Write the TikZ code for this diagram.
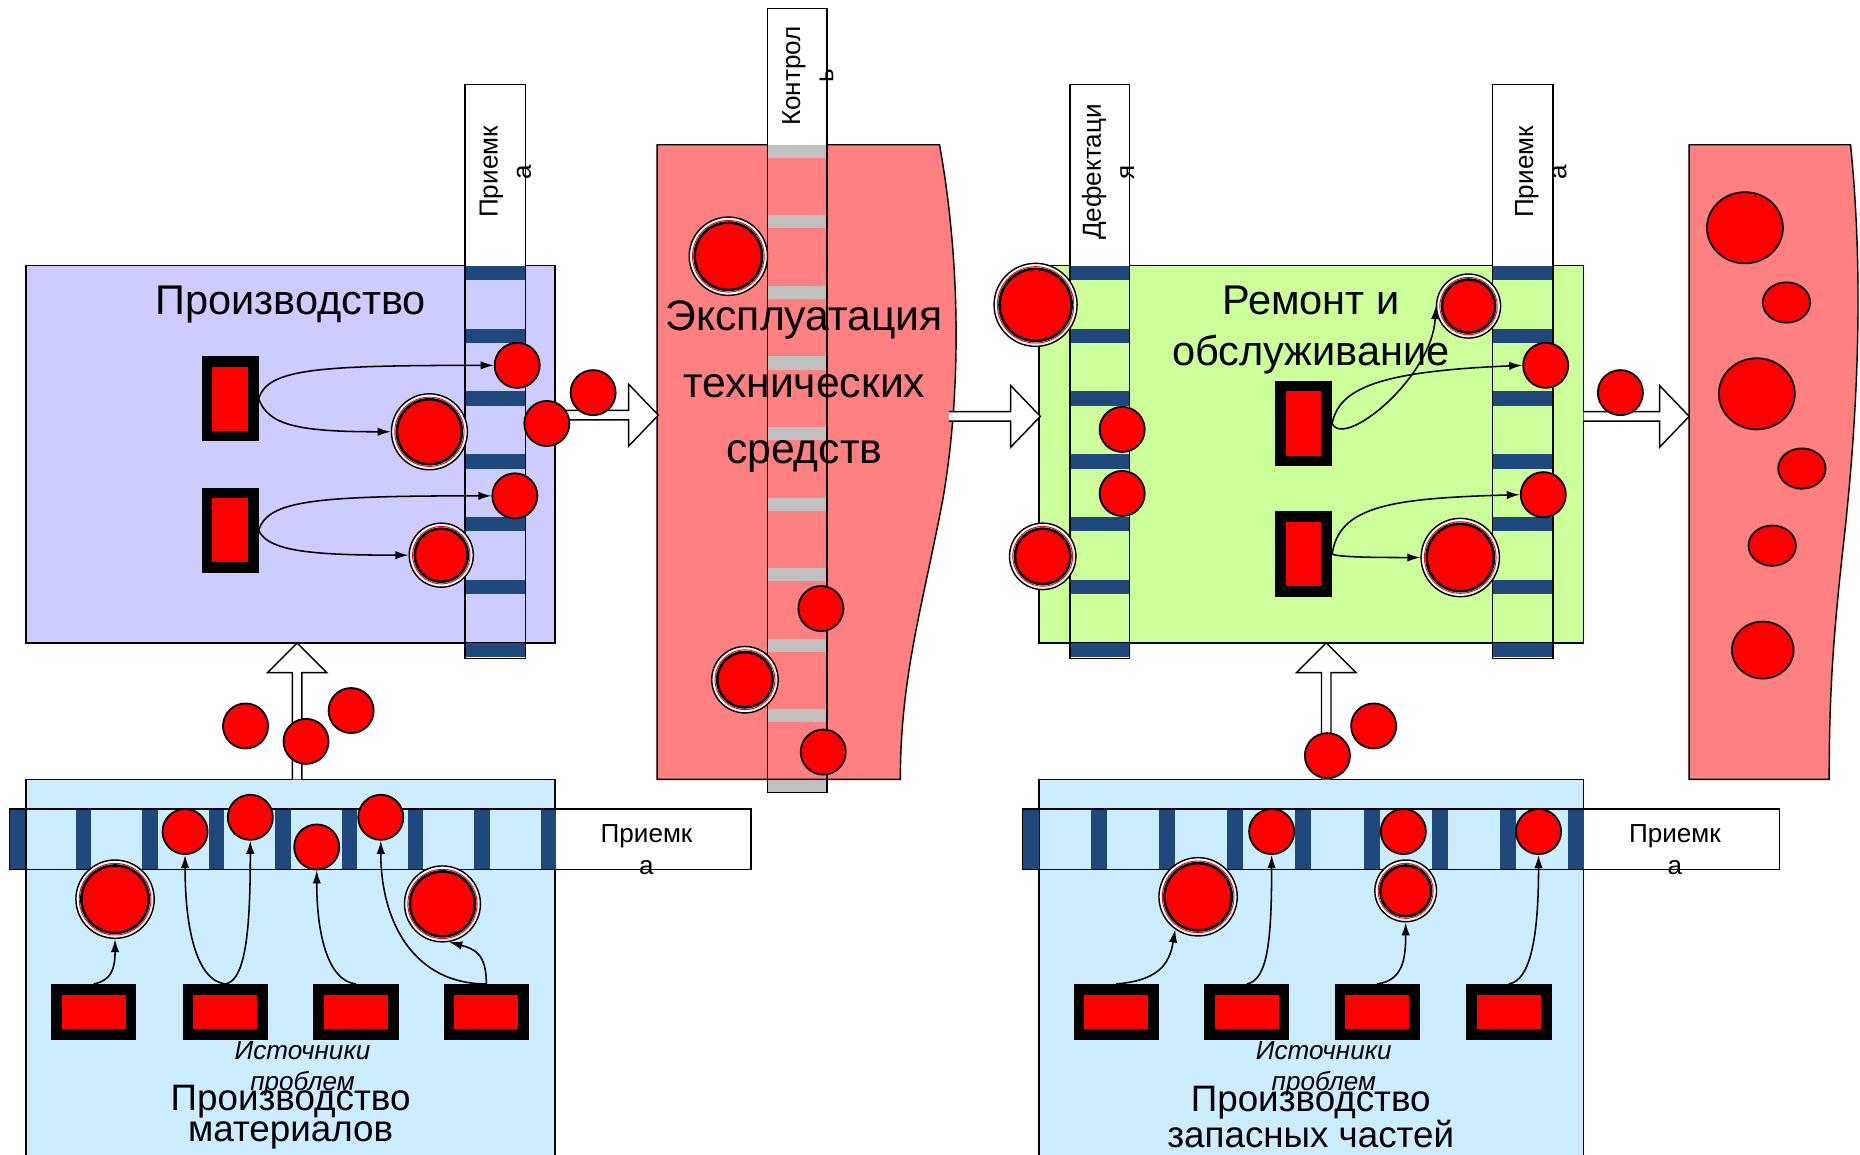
\documentclass[tikz,border=0pt]{standalone}
\usepackage{fontspec}
\setmainfont{Liberation Sans}
\usetikzlibrary{arrows.meta,shapes.geometric}

\definecolor{lavender}{RGB}{204,204,255}
\definecolor{opspink}{RGB}{255,128,128}
\definecolor{repgreen}{RGB}{204,255,153}
\definecolor{prodblue}{RGB}{204,236,255}
\definecolor{navybar}{RGB}{31,73,125}
\definecolor{greybar}{RGB}{192,192,192}

\newcommand{\dball}[4]{%
  \node[dballout, minimum size=2*#4] (#1) at (#2,#3) {};
  \draw[red, line width=0.8pt] (#1.center) circle ({#4-2.8});
  \draw[fill=red, line width=2.2pt] (#1.center) circle ({#4-4.6});
}
\newcommand{\harrow}[3]{%
  \draw[fill=white] (#1,#3+4) -- (#2-25,#3+4) -- (#2-25,#3+26) -- (#2,#3) -- (#2-25,#3-26) -- (#2-25,#3-4) -- (#1,#3-4);
}
\newcommand{\varrow}[3]{%
  \draw[fill=white] (#1-4,#2) -- (#1-4,#3-25) -- (#1-25,#3-25) -- (#1,#3) -- (#1+25,#3-25) -- (#1+4,#3-25) -- (#1+4,#2);
}

\begin{document}
\begin{tikzpicture}[x=1pt, y=1pt, line width=1.2pt, >={Latex[length=11pt,width=7pt]},
  ball/.style={circle, draw=black, fill=red, line width=1.5pt, minimum size=38pt, inner sep=0pt},
  ell/.style={ellipse, draw=black, fill=red, line width=1.5pt, inner sep=0pt},
  dballout/.style={circle, draw=black, fill=white, line width=1.2pt, inner sep=0pt},
  srcv/.style={rectangle, draw=black, fill=red, line width=9pt, minimum width=39pt, minimum height=63pt, inner sep=0pt},
  srch/.style={rectangle, draw=black, fill=red, line width=9pt, minimum width=63pt, minimum height=38pt, inner sep=0pt},
  conn/.style={->, line width=1.3pt},
  rotlabel/.style={rotate=90, align=center, inner sep=0pt, font=\fontsize{22}{28}\selectfont},
  hlabel/.style={align=center, inner sep=0pt, font=\fontsize{22}{27}\selectfont}]
\clip (0,0) rectangle (1568,-973);

% panels
\draw[fill=lavender] (22,-224) rectangle (468,-542);
\draw[fill=opspink] (554,-122) -- (792,-122) .. controls (808,-210) and (812,-320) .. (795,-420)
  .. controls (778,-510) and (759,-570) .. (759,-657) -- (554,-657) -- cycle;
\draw[fill=repgreen] (876,-224) rectangle (1335,-542);
\draw[fill=opspink] (1424,-122) -- (1560,-122) .. controls (1570,-220) and (1568,-330) .. (1555,-450)
  .. controls (1546,-530) and (1542,-580) .. (1542,-657) -- (1424,-657) -- cycle;
\draw[fill=prodblue] (22,-657) rectangle (468,-990);
\draw[fill=prodblue] (876,-657) rectangle (1335,-990);

% strips
\fill[white] (392,-71) rectangle (443,-224);
\foreach \y in {224,277,...,542} \fill[navybar] (392,-\y) rectangle (443,-\y-12);
\draw (392,-71) rectangle (443,-555);
\fill[white] (902,-71) rectangle (952,-224);
\foreach \y in {224,277,...,542} \fill[navybar] (902,-\y) rectangle (952,-\y-12);
\draw (902,-71) rectangle (952,-555);
\fill[white] (1258,-71) rectangle (1309,-224);
\foreach \y in {224,277,...,542} \fill[navybar] (1258,-\y) rectangle (1309,-\y-12);
\draw (1258,-71) rectangle (1309,-555);
\fill[white] (647,-7) rectangle (697,-122);
\foreach \y in {122,181.5,...,658} \fill[greybar] (647,-\y) rectangle (697,-\y-11);
\draw (647,-7) rectangle (697,-668);
\fill[white] (468,-682) rectangle (633,-733);
\foreach \x in {8,64,...,456} \fill[navybar] (\x,-682) rectangle (\x+13,-733);
\draw (8,-682) rectangle (633,-733);
\fill[white] (1335,-682) rectangle (1500,-733);
\foreach \x in {862,919.5,...,1323} \fill[navybar] (\x,-682) rectangle (\x+13.5,-733);
\draw (862,-682) rectangle (1500,-733);

% block arrows
\harrow{468}{555}{-350}
\harrow{800}{877}{-351}
\harrow{1335}{1424}{-351}
\varrow{250.5}{-657}{-542}
\varrow{1118}{-657}{-542}

% production
\node[srcv] (ps1) at (194,-336) {};
\node[srcv] (ps2) at (194,-447) {};
\node[ball] (pb1) at (436,-308) {};
\dball{pd1}{362}{-364}{32}
\node[ball] (pb2) at (434,-418) {};
\dball{pd2}{372}{-468}{27}
\node[ball] (pb3) at (461,-357) {};
\node[ball] (pb4) at (500,-331) {};
\draw[conn] (ps1.east) .. controls +(8,25) and +(-150,0) .. (pb1.west);
\draw[conn] (ps1.east) .. controls +(8,-22) and +(-80,0) .. (pd1.west);
\draw[conn] (ps2.east) .. controls +(8,25) and +(-150,0) .. (pb2.west);
\draw[conn] (ps2.east) .. controls +(8,-18) and +(-80,0) .. (pd2.west);

% operation
\dball{od1}{614}{-216}{33}
\node[ball] (ob1) at (692,-513) {};
\dball{od2}{628}{-573}{28}
\node[ball] (ob2) at (694,-634) {};

% repair
\node[srcv] (rs1) at (1099,-357) {};
\node[srcv] (rs2) at (1099,-467) {};
\dball{rd1}{873}{-257}{35}
\node[ball] (rb1) at (946,-362) {};
\node[ball] (rb2) at (946,-416) {};
\dball{rd2}{879}{-469}{28}
\dball{rd3}{1238}{-258}{27}
\node[ball] (rb3) at (1303,-308) {};
\node[ball] (rb4) at (1301,-417) {};
\dball{rd4}{1231}{-470}{33}
\node[ball] (rb5) at (1366,-331) {};
\draw[conn] (rs1.east) .. controls +(10,-22) and +(-3,-60) .. (rd3.west);
\draw[conn] (rs1.east) .. controls +(6,30) and +(-120,-5) .. (rb3.west);
\draw[conn] (rs2.east) .. controls +(6,40) and +(-110,-3) .. (rb4.west);
\draw[conn] (rs2.east) .. controls +(4,-3) and +(-30,0) .. (rd4.west);

% stock
\node[ell, minimum width=64pt, minimum height=60pt] (fb1) at (1471,-192) {};
\node[ell, minimum width=40pt, minimum height=34pt] (fb2) at (1506,-255) {};
\node[ell, minimum width=64pt, minimum height=60pt] (fb3) at (1481,-332) {};
\node[ell, minimum width=40pt, minimum height=34pt] (fb4) at (1519,-395) {};
\node[ell, minimum width=40pt, minimum height=34pt] (fb5) at (1494,-460) {};
\node[ell, minimum width=52pt, minimum height=48pt] (fb6) at (1486,-548) {};

% materials
\node[srch] (ms1) at (79,-853) {};
\node[srch] (ms2) at (190,-853) {};
\node[srch] (ms3) at (300,-853) {};
\node[srch] (ms4) at (410,-853) {};
\node[ball] (mb1) at (156,-701) {};
\node[ball] (mb2) at (211,-689) {};
\node[ball] (mb3) at (267,-714) {};
\node[ball] (mb4) at (321,-689) {};
\dball{md1}{97}{-758}{33}
\dball{md2}{373}{-762}{32}
\node[ball] (ub1) at (207,-612) {};
\node[ball] (ub2) at (258,-625) {};
\node[ball] (ub3) at (296,-599) {};
\draw[conn] (ms1.north) .. controls +(15,3) and +(0,-25) .. (md1.south);
\draw[conn] (ms2.north) .. controls +(-25,3) and +(0,-60) .. (mb1.south);
\draw[conn] (ms2.north) .. controls +(18,3) and +(0,-70) .. (mb2.south);
\draw[conn] (ms3.north) .. controls +(-25,3) and +(0,-50) .. (mb3.south);
\draw[conn] (ms4.north) .. controls +(-60,0) and +(0,-70) .. (mb4.south);
\draw[conn] (ms4.north) .. controls +(0,25) and +(22,-6) .. (md2.-80);

% spare parts
\node[srch] (ss1) at (941,-853) {};
\node[srch] (ss2) at (1051,-853) {};
\node[srch] (ss3) at (1161,-853) {};
\node[srch] (ss4) at (1272,-853) {};
\node[ball] (sb1) at (1072,-701) {};
\node[ball] (sb2) at (1183,-701) {};
\node[ball] (sb3) at (1297,-701) {};
\dball{sd1}{1010}{-756}{33}
\dball{sd2}{1185}{-751}{26}
\node[ball] (vb1) at (1119,-637) {};
\node[ball] (vb2) at (1158,-612) {};
\draw[conn] (ss1.north) .. controls +(35,3) and +(-5,-30) .. (sd1.235);
\draw[conn] (ss2.north) .. controls +(18,3) and +(0,-70) .. (sb1.south);
\draw[conn] (ss3.north) .. controls +(22,3) and +(0,-30) .. (sd2.south);
\draw[conn] (ss4.north) .. controls +(18,3) and +(0,-70) .. (sb3.south);

% texts
\node[font=\fontsize{35}{42}\selectfont] (ptitle) at (245,-257) {Производство};
\node[align=center, font=\fontsize{36}{56}\selectfont] (otitle) at (678,-326) {Эксплуатация\\технических\\средств};
\node[align=center, font=\fontsize{35}{43}\selectfont] (rtitle) at (1105,-278) {Ремонт и\\обслуживание};
\node[align=center, font=\itshape\fontsize{22}{26}\selectfont] (mnote) at (255,-901) {Источники\\проблем};
\node[align=center, font=\fontsize{31}{26}\selectfont] (mtitle) at (245,-942) {Производство\\материалов};
\node[align=center, font=\itshape\fontsize{22}{26}\selectfont] (snote) at (1116,-901) {Источники\\проблем};
\node[align=center, font=\fontsize{31}{26}\selectfont] (stitle) at (1105,-942) {Производство\\запасных частей};
\node[rotlabel] (plab) at (426,-145) {Приемк\\а};
\node[rotlabel] (clab) at (681,-64) {Контрол\\ь};
\node[rotlabel] (dlab) at (934,-145) {Дефектаци\\я};
\node[rotlabel] (rlab) at (1299,-145) {Приемк\\а};
\node[hlabel] (mlab) at (545,-716) {Приемк\\а};
\node[hlabel] (slab) at (1412,-716) {Приемк\\а};
\end{tikzpicture}
\end{document}
